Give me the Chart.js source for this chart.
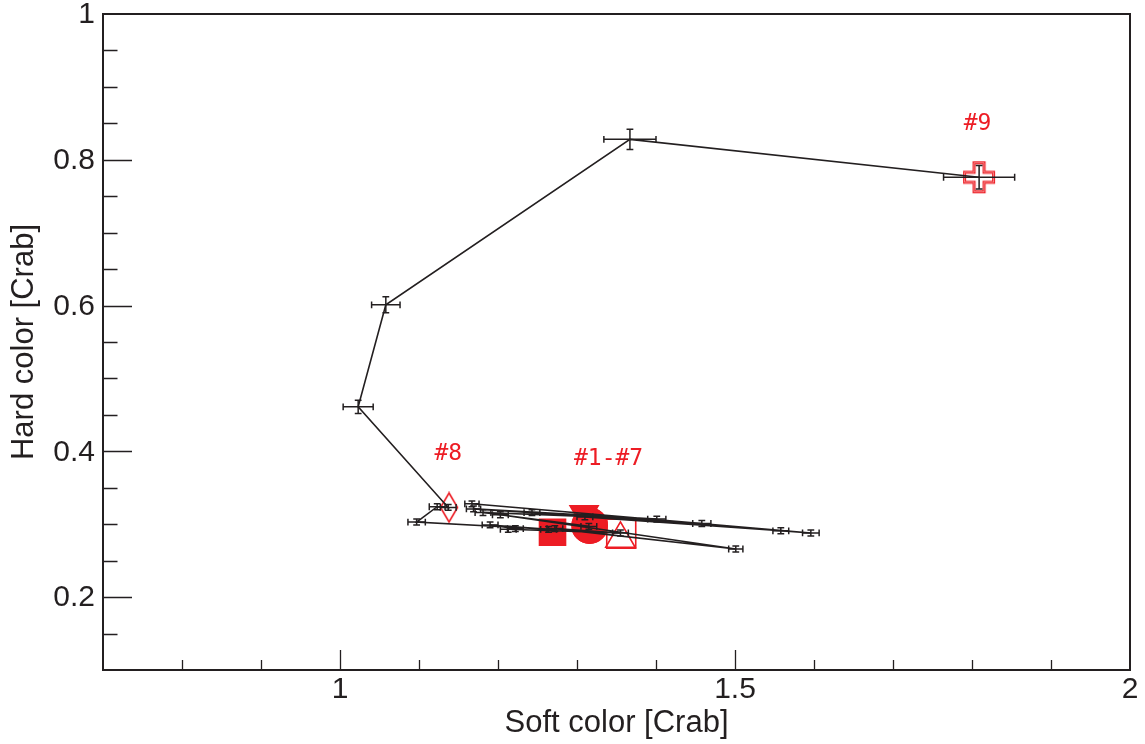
<!DOCTYPE html>
<html>
<head>
<meta charset="utf-8">
<script src="https://cdn.jsdelivr.net/npm/chart.js@4.4.1/dist/chart.umd.min.js"></script>
<style>
  html, body { margin: 0; padding: 0; background: #fff; }
  #wrap { width: 1145px; height: 744px; }
</style>
</head>
<body>
<div id="wrap"><canvas id="chart" width="1145" height="744"></canvas></div>
<script>
// observations, in time order (soft / hard colour, Crab units)
const softColor = [1.310, 1.558, 1.243, 1.596, 1.167, 1.458, 1.169, 1.401, 1.181, 1.315, 1.203, 1.501,
                   1.272, 1.355, 1.213, 1.222, 1.190, 1.264, 1.097, 1.123, 1.137, 1.023, 1.058, 1.367, 1.809];
const hardColor = [0.310, 0.291, 0.316, 0.288, 0.328, 0.301, 0.321, 0.307, 0.316, 0.297, 0.313, 0.266,
                   0.294, 0.288, 0.293, 0.294, 0.299, 0.293, 0.303, 0.324, 0.323, 0.461, 0.601, 0.828, 0.776];
const softErr = [0.010, 0.010, 0.010, 0.0105, 0.009, 0.0115, 0.009, 0.0115, 0.010, 0.010, 0.010, 0.009,
                 0.010, 0.010, 0.010, 0.010, 0.010, 0.010, 0.011, 0.010, 0.010, 0.019, 0.018, 0.033, 0.045];
const hardErr = [0.004, 0.004, 0.004, 0.004, 0.004, 0.004, 0.004, 0.004, 0.004, 0.004, 0.004, 0.004,
                 0.004, 0.004, 0.004, 0.004, 0.004, 0.004, 0.004, 0.004, 0.004, 0.009, 0.011, 0.014, 0.016];

// group averages #1..#9
const groupNames = ['#1', '#2', '#3', '#4', '#5', '#6', '#7', '#8', '#9'];
const groupSoft = [1.316, 1.269, 1.316, 1.309, 1.316, 1.356, 1.355, 1.138, 1.809];
const groupHard = [0.298, 0.289, 0.298, 0.314, 0.298, 0.287, 0.280, 0.323, 0.776];

// text labels
const noteText = ['#1-#7', '#8', '#9'];
const noteSoft = [1.340, 1.137, 1.807];
const noteHard = [0.389, 0.396, 0.849];

const xTicks = [1, 1.5, 2];
const yTicks = [0.2, 0.4, 0.6, 0.8, 1];

const ink = '#231f20';
const red = '#ed1c24';
const none = 'rgba(0,0,0,0)';
const labelFont = '30px "Liberation Sans", Arial, sans-serif';

function diamondImg() {
  const c = document.createElement('canvas');
  c.width = 20; c.height = 32;
  const g = c.getContext('2d');
  g.strokeStyle = red; g.lineWidth = 1.6;
  g.beginPath();
  g.moveTo(10, 1.5); g.lineTo(18.5, 16); g.lineTo(10, 30.5); g.lineTo(1.5, 16);
  g.closePath(); g.stroke();
  return c;
}

function crossImg() {
  const c = document.createElement('canvas');
  c.width = 34; c.height = 34;
  const g = c.getContext('2d');
  const m = 17, h = 14.5, a = 5;
  const pts = [[m - a, m - h], [m + a, m - h], [m + a, m - a], [m + h, m - a], [m + h, m + a], [m + a, m + a],
               [m + a, m + h], [m - a, m + h], [m - a, m + a], [m - h, m + a], [m - h, m - a], [m - a, m - a]];
  g.beginPath();
  pts.forEach((p, i) => i ? g.lineTo(p[0], p[1]) : g.moveTo(p[0], p[1]));
  g.closePath();
  g.strokeStyle = red; g.lineWidth = 3; g.stroke();
  g.strokeStyle = '#f8a5a5'; g.lineWidth = 0.8; g.stroke();
  return c;
}

const frameTicks = {
  id: 'frameTicks',
  beforeDatasetsDraw(chart) {
    const {ctx, chartArea: a, scales: {x, y}} = chart;
    ctx.save();
    ctx.strokeStyle = ink;
    ctx.lineWidth = 1.3;
    ctx.beginPath();
    for (let v = 0.8; v < 2.0; v += 0.1) {
      const px = Math.round(x.getPixelForValue(v)) + 0.5;
      const major = Math.abs(v - 1) < 1e-6 || Math.abs(v - 1.5) < 1e-6;
      ctx.moveTo(px, a.bottom); ctx.lineTo(px, a.bottom - (major ? 20 : 10));
    }
    for (let v = 0.15; v < 1.0; v += 0.05) {
      const py = Math.round(y.getPixelForValue(v)) + 0.5;
      const major = Math.abs(v * 5 - Math.round(v * 5)) < 1e-6;
      ctx.moveTo(a.left, py); ctx.lineTo(a.left + (major ? 29 : 14.5), py);
    }
    ctx.stroke();
    ctx.lineWidth = 2;
    ctx.strokeRect(a.left, a.top, a.right - a.left, a.bottom - a.top);

    // tick labels
    ctx.fillStyle = ink;
    ctx.font = labelFont;
    ctx.textBaseline = 'middle';
    ctx.textAlign = 'right';
    yTicks.forEach(v => ctx.fillText(String(v), a.left - 8, y.getPixelForValue(v) + 1));
    ctx.textAlign = 'center';
    xTicks.forEach(v => ctx.fillText(String(v), x.getPixelForValue(v), a.bottom + 20));
    ctx.restore();
  },
  afterDatasetsDraw(chart) {
    const {ctx, scales: {x, y}} = chart;
    ctx.save();
    ctx.strokeStyle = ink;
    ctx.lineWidth = 1.5;
    const cap = 3.4;
    softColor.forEach((sx, i) => {
      const px = x.getPixelForValue(sx), py = y.getPixelForValue(hardColor[i]);
      const x0 = x.getPixelForValue(sx - softErr[i]), x1 = x.getPixelForValue(sx + softErr[i]);
      const y0 = y.getPixelForValue(hardColor[i] - hardErr[i]), y1 = y.getPixelForValue(hardColor[i] + hardErr[i]);
      ctx.beginPath();
      ctx.moveTo(x0, py); ctx.lineTo(x1, py);
      ctx.moveTo(x0, py - cap); ctx.lineTo(x0, py + cap);
      ctx.moveTo(x1, py - cap); ctx.lineTo(x1, py + cap);
      ctx.moveTo(px, y0); ctx.lineTo(px, y1);
      ctx.moveTo(px - cap, y0); ctx.lineTo(px + cap, y0);
      ctx.moveTo(px - cap, y1); ctx.lineTo(px + cap, y1);
      ctx.stroke();
    });
    ctx.fillStyle = red;
    ctx.font = '23px "DejaVu Sans Mono"';
    ctx.textAlign = 'center';
    ctx.textBaseline = 'middle';
    noteText.forEach((t, i) => {
      ctx.fillText(t, x.getPixelForValue(noteSoft[i]), y.getPixelForValue(noteHard[i]));
    });
    ctx.restore();
  }
};

const titleFont = {family: '"Liberation Sans", Arial, sans-serif', size: 31};

new Chart(document.getElementById('chart'), {
  type: 'scatter',
  data: {
    datasets: [{
      label: 'path',
      data: softColor.map((v, i) => ({x: v, y: hardColor[i]})),
      showLine: true,
      borderColor: ink,
      borderWidth: 1.6,
      pointRadius: 0,
      order: 0
    }, {
      label: 'groups',
      data: groupSoft.map((v, i) => ({x: v, y: groupHard[i]})),
      pointStyle: ['circle', 'rect', 'triangle', 'triangle', 'circle', 'rect', 'triangle', diamondImg(), crossImg()],
      pointRotation: [0, 0, 0, 180, 0, 0, 0, 0, 0],
      pointRadius: [17.5, 18.4, 16, 16.2, 17.5, 20.5, 17, 15, 15],
      pointBackgroundColor: [red, red, red, red, none, none, none, none, none],
      pointBorderColor: red,
      pointBorderWidth: 1.6,
      order: 1
    }]
  },
  options: {
    responsive: false,
    animation: false,
    events: [],
    layout: {autoPadding: false, padding: {top: 14, right: 15, left: 0, bottom: 0}},
    plugins: {legend: {display: false}, tooltip: {enabled: false}},
    scales: {
      x: {
        type: 'linear', min: 0.7, max: 2.0,
        afterBuildTicks: s => { s.ticks = xTicks.map(v => ({value: v})); },
        afterFit: s => { s.height = 74; },
        grid: {display: false}, border: {display: false},
        ticks: {display: false},
        title: {display: true, text: 'Soft color [Crab]', color: ink, font: titleFont, padding: {top: 0, bottom: 2}}
      },
      y: {
        type: 'linear', min: 0.1, max: 1.0,
        afterBuildTicks: s => { s.ticks = yTicks.map(v => ({value: v})); },
        afterFit: s => { s.width = 103; },
        grid: {display: false}, border: {display: false},
        ticks: {display: false},
        title: {display: true, text: 'Hard color [Crab]', color: ink, font: titleFont, padding: {top: 6, bottom: 0}}
      }
    }
  },
  plugins: [frameTicks]
});
</script>
</body>
</html>
